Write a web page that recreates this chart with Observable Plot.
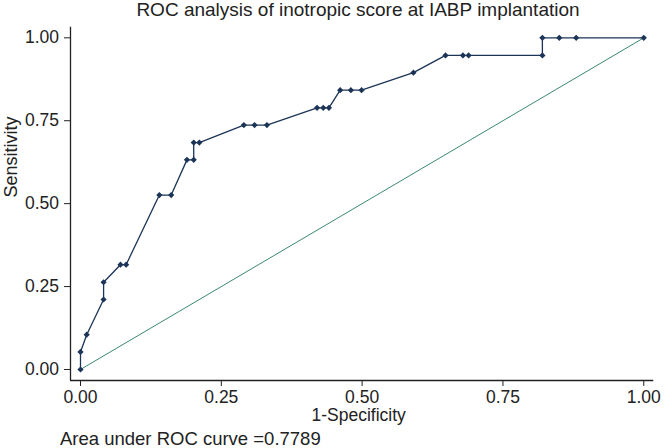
<!DOCTYPE html>
<html>
<head>
<meta charset="utf-8">
<script src="https://cdn.jsdelivr.net/npm/d3@7"></script>
<script src="https://cdn.jsdelivr.net/npm/@observablehq/plot@0.6"></script>
<style>
  html, body { margin: 0; padding: 0; background: #fff; overflow: hidden; }
  body { width: 666px; height: 448px; font-family: "Liberation Sans", Arial, Helvetica, sans-serif; color: #222; }
  .title { box-sizing: border-box; width: 666px; height: 20px; padding-left: 50px; text-align: center; font-size: 19px; line-height: 20px; white-space: nowrap; }
  .caption { box-sizing: border-box; width: 666px; padding-left: 60px; font-size: 18.5px; line-height: 20px; white-space: nowrap; }
  svg { display: block; }
</style>
</head>
<body>
<script>
// ROC curve points
const fpr = [0, 0, 0.011, 0.041, 0.041, 0.071, 0.081, 0.140, 0.161, 0.189, 0.201, 0.201, 0.211, 0.290, 0.309, 0.331, 0.420, 0.431, 0.441, 0.461, 0.480, 0.499, 0.591, 0.648, 0.679, 0.689, 0.820, 0.820, 0.850, 0.880, 1.0];
const tpr = [0, 0.053, 0.105, 0.211, 0.263, 0.316, 0.316, 0.526, 0.526, 0.632, 0.632, 0.684, 0.684, 0.737, 0.737, 0.737, 0.789, 0.789, 0.789, 0.842, 0.842, 0.842, 0.895, 0.947, 0.947, 0.947, 0.947, 1.0, 1.0, 1.0, 1.0];
const refLine = [0, 1];
const ticks = [0, 0.25, 0.5, 0.75, 1];
const titleText = "ROC analysis of inotropic score at IABP implantation";
const xLabel = "1-Specificity";
const yLabel = "Sensitivity";
const captionText = "Area under ROC curve =0.7789";

const data = fpr.map((x, i) => ({x, y: tpr[i]}));
const navy = "#1b3457";
const green = "#3a8a6e";
const xDom = [-0.01775, 1.0178];
const yDom = [-0.0332, 1.032];

const title = document.createElement("div");
title.className = "title";
title.textContent = titleText;
document.body.appendChild(title);

const chart = Plot.plot({
  width: 666,
  height: 409,
  marginTop: 6.7,
  marginBottom: 49,
  marginLeft: 70,
  marginRight: 12.7,
  style: {fontSize: "17.5px", fontFamily: "'Liberation Sans', Arial, Helvetica, sans-serif", color: "#222", background: "#fff", overflow: "visible"},
  x: {domain: xDom, ticks: ticks, tickFormat: d3.format(".2f"), tickSize: 6, tickPadding: 4.5, label: null},
  y: {domain: yDom, ticks: ticks, tickFormat: d3.format(".2f"), tickSize: 6, tickPadding: 5.5, label: null},
  marks: [
    Plot.ruleY([yDom[0]], {stroke: "#222", strokeWidth: 1.3}),
    Plot.ruleX([xDom[0]], {stroke: "#222", strokeWidth: 1.3}),
    Plot.line(refLine, {x: d => d, y: d => d, stroke: green, strokeWidth: 1}),
    Plot.line(data, {x: "x", y: "y", stroke: navy, strokeWidth: 1.3}),
    Plot.dot(data, {x: "x", y: "y", symbol: "diamond2", fill: navy, stroke: "none", r: 2.8}),
    Plot.text([xLabel], {frameAnchor: "bottom", dx: -3.5, dy: 40, fontSize: 17.5, fill: "#222"}),
    Plot.text([yLabel], {frameAnchor: "left", rotate: -90, dx: -59.3, dy: -6.35, fontSize: 18, fill: "#222"})
  ]
});
document.body.appendChild(chart);

const cap = document.createElement("div");
cap.className = "caption";
cap.textContent = captionText;
document.body.appendChild(cap);
</script>
</body>
</html>
